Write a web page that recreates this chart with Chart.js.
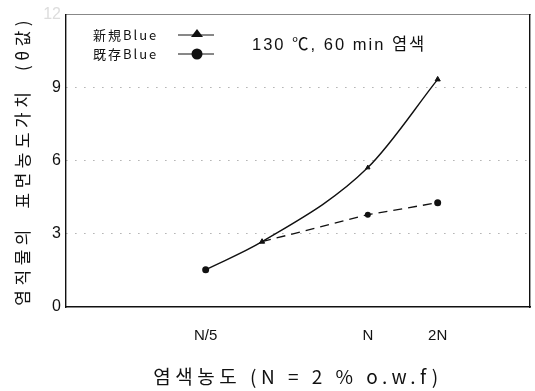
<!DOCTYPE html>
<html>
<head>
<meta charset="utf-8">
<script src="https://cdn.jsdelivr.net/npm/chart.js@4/dist/chart.umd.min.js"></script>
<style>
  html, body { margin: 0; padding: 0; background: #fff; }
  #caja { width: 535px; height: 391px; }
</style>
</head>
<body>
<div id="caja"><canvas id="grafico"></canvas></div>
<script>
// 염색농도 (% o.w.f), N = 2 %
const concentraciones = [0.4, 0.7, 2, 4];
const nuevoBlue = [1.53, 2.68, 5.72, 9.34];     // 新規Blue
const existenteBlue = [1.53, 2.68, 3.79, 4.28]; // 既存Blue
const ticksX = [0.4, 2, 4];
const etiquetasX = ['N/5', 'N', '2N'];
const ticksY = [0, 3, 6, 9, 12];

(function () {
  const fuente = '"Liberation Sans", "Noto Sans CJK KR", sans-serif';
  const fuenteKr = '"Noto Sans CJK KR", "Liberation Sans", sans-serif';

  // títulos de ejes con letras separadas, etiquetas sin separar
  const espaciado = {
    id: 'espaciado',
    beforeDraw(chart) { chart.ctx.letterSpacing = '4.5px'; },
    beforeDatasetsDraw(chart) { chart.ctx.letterSpacing = '0px'; },
    afterDraw(chart) {
      const ctx = chart.ctx;
      ctx.save();
      ctx.fillStyle = '#111';
      ctx.strokeStyle = '#111';
      ctx.textBaseline = 'middle';
      ctx.textAlign = 'left';
      // leyenda
      ctx.letterSpacing = '2px';
      ctx.font = '13px ' + fuenteKr;
      ctx.fillText('新規Blue', 93, 35);
      ctx.fillText('既存Blue', 93, 54);
      ctx.lineWidth = 1;
      ctx.beginPath();
      ctx.moveTo(178, 35); ctx.lineTo(214, 35);
      ctx.moveTo(178, 54); ctx.lineTo(214, 54);
      ctx.stroke();
      ctx.beginPath();
      ctx.moveTo(197, 29); ctx.lineTo(203, 37); ctx.lineTo(191, 37); ctx.closePath();
      ctx.fill();
      ctx.beginPath();
      ctx.arc(197, 54, 5.5, 0, Math.PI * 2);
      ctx.fill();
      // condición
      ctx.letterSpacing = '2px';
      ctx.font = '16.5px ' + fuente;
      ctx.fillText('130 ℃, 60 min 염색', 252, 45);
      ctx.restore();
      ctx.letterSpacing = '0px';
    }
  };

  new Chart(document.getElementById('grafico'), {
    type: 'line',
    data: {
      datasets: [{
        label: '新規Blue',
        data: concentraciones.map((x, i) => ({ x: x, y: nuevoBlue[i] })),
        borderColor: '#111',
        backgroundColor: '#111',
        borderWidth: 1.4,
        cubicInterpolationMode: 'monotone',
        pointStyle: 'triangle',
        pointRadius: [0, 3, 2.5, 3],
        pointBorderWidth: 1
      }, {
        label: '既存Blue',
        data: concentraciones.map((x, i) => ({ x: x, y: existenteBlue[i] })),
        borderColor: '#111',
        backgroundColor: '#111',
        borderWidth: 1.3,
        borderDash: [9, 6],
        segment: {
          borderColor: (c) => c.p0DataIndex === 0 ? 'rgba(0,0,0,0)' : undefined
        },
        tension: 0,
        pointStyle: 'circle',
        pointRadius: [3.5, 0, 3, 3.5],
        pointBorderWidth: 0
      }]
    },
    options: {
      responsive: true,
      maintainAspectRatio: false,
      animation: false,
      layout: { padding: { top: 14, right: 1, left: 0, bottom: 0 } },
      plugins: { legend: { display: false }, tooltip: { enabled: false } },
      scales: {
        x: {
          type: 'logarithmic',
          min: 0.1,
          max: 10,
          afterBuildTicks: (escala) => { escala.ticks = ticksX.map(v => ({ value: v })); },
          afterFit: (escala) => { escala.height = 84; },
          ticks: {
            z: 1,
            autoSkip: false,
            maxRotation: 0,
            padding: 12,
            color: '#111',
            font: { family: fuente, size: 15 },
            callback: (v) => etiquetasX[ticksX.indexOf(v)]
          },
          grid: { display: false },
          border: { display: true, color: '#111', width: 1.6 },
          title: {
            display: true,
            text: '염색농도 (N = 2 % o.w.f)',
            color: '#111',
            font: { family: fuenteKr, size: 19 },
            padding: { top: 0, bottom: 3 }
          }
        },
        x2: {
          type: 'linear',
          position: 'top',
          min: 0, max: 1,
          ticks: { display: false },
          grid: { display: false },
          border: { display: true, color: '#888', width: 1 },
          afterFit: (escala) => { escala.height = 0; }
        },
        y: {
          min: 0,
          max: 12,
          afterBuildTicks: (escala) => { escala.ticks = ticksY.map(v => ({ value: v })); },
          afterFit: (escala) => { escala.width = 66; },
          ticks: {
            z: 1,
            padding: 5,
            color: (c) => c.tick && c.tick.value === 12 ? '#ddd' : '#111',
            font: { family: fuente, size: 16 }
          },
          grid: {
            drawTicks: false,
            color: (c) => (c.tick && (c.tick.value === 0 || c.tick.value === 12)) ? 'rgba(0,0,0,0)' : '#888',
            lineWidth: 1
          },
          border: { display: true, color: '#111', width: 1.4, dash: [1, 8] },
          title: {
            display: true,
            text: '염직물의  표면농도가치  (θ값)',
            color: '#111',
            font: { family: fuenteKr, size: 17 },
            padding: { top: 12, bottom: 0 }
          }
        },
        y2: {
          position: 'right',
          min: 0, max: 12,
          ticks: { display: false },
          grid: { display: false },
          border: { display: true, color: '#111', width: 1.4 },
          afterFit: (escala) => { escala.width = 1; }
        }
      }
    },
    plugins: [espaciado]
  });
})();
</script>
</body>
</html>
